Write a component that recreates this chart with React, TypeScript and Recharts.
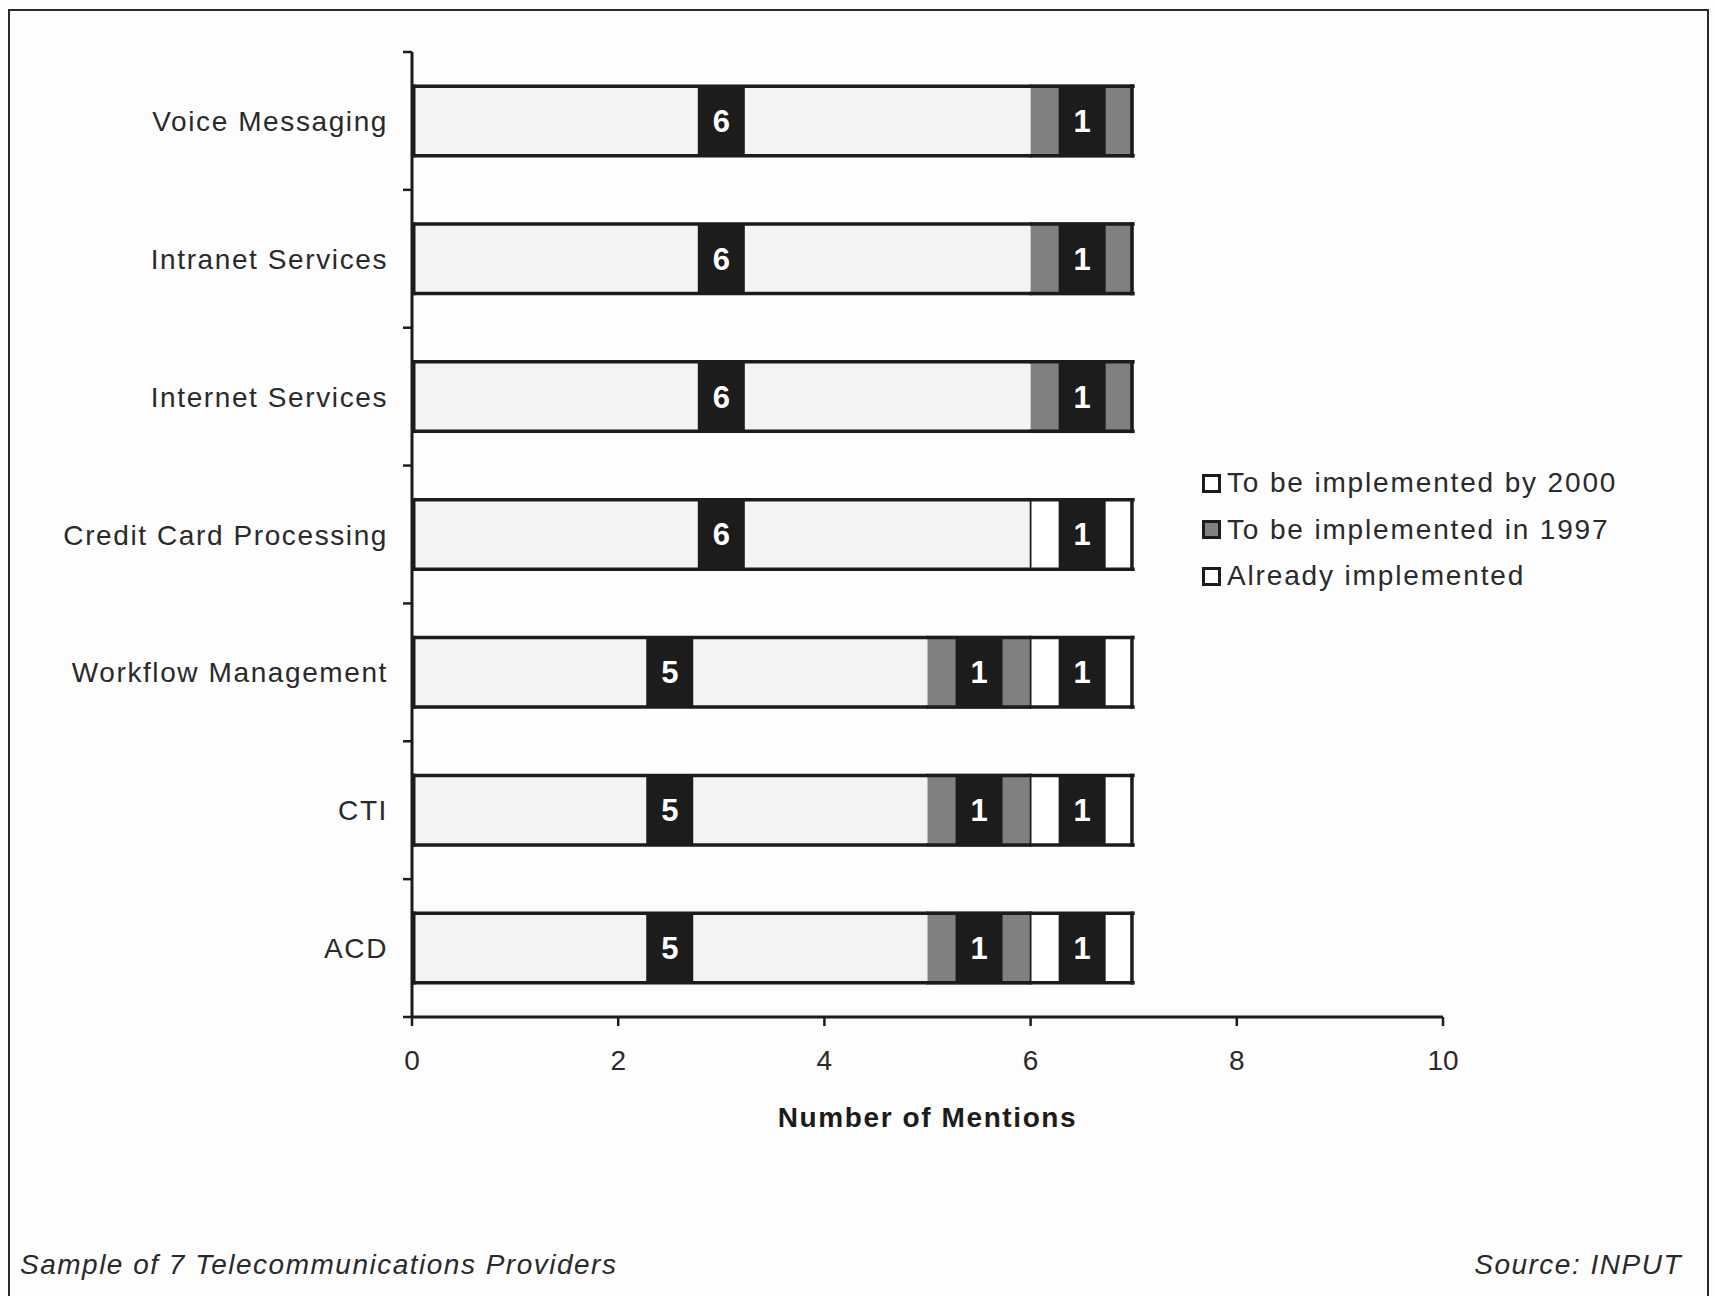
import React from 'react';
import { BarChart, Bar, XAxis, YAxis, LabelList } from 'recharts';

const categories = ['Voice Messaging', 'Intranet Services', 'Internet Services', 'Credit Card Processing', 'Workflow Management', 'CTI', 'ACD'];
const alreadyImplemented = [6, 6, 6, 6, 5, 5, 5];
const implementedIn1997 = [1, 1, 1, 0, 1, 1, 1];
const implementedBy2000 = [0, 0, 0, 1, 1, 1, 1];
const xTicks = [0, 2, 4, 6, 8, 10];
const seriesNames = ['Already implemented', 'To be implemented in 1997', 'To be implemented by 2000'];

const data = categories.map((c, i) => ({
  name: c,
  already: alreadyImplemented[i],
  y1997: implementedIn1997[i],
  y2000: implementedBy2000[i],
}));

const W = 1715;
const H = 1296;
const PLOT_LEFT = 412;
const PLOT_RIGHT = 1443;
const PLOT_TOP = 52;
const PLOT_BOTTOM = 1017;
const XAXIS_H = 60;
const BAND = (PLOT_BOTTOM - PLOT_TOP) / categories.length;
const FONT = "'Liberation Sans', Arial, sans-serif";
const INK = '#1c1c1c';
const LIGHT = '#f3f3f3';
const GRAY = '#808080';
const WHITE = '#ffffff';
const BORDER = 3.5;

const hEdges = (x: number, y: number, w: number, h: number) => (
  <>
    <line x1={x - 1} x2={x + w + 1} y1={y + BORDER / 2} y2={y + BORDER / 2} stroke={INK} strokeWidth={BORDER} />
    <line x1={x - 1} x2={x + w + 1} y1={y + h - BORDER / 2} y2={y + h - BORDER / 2} stroke={INK} strokeWidth={BORDER} />
  </>
);

const AlreadyShape = (p: any) => {
  const { x, y, width, height } = p;
  if (!width || width <= 0) return null;
  return (
    <g>
      <rect x={x} y={y} width={width} height={height} fill={LIGHT} />
      {hEdges(x, y, width, height)}
      <line x1={x + BORDER / 2} x2={x + BORDER / 2} y1={y} y2={y + height} stroke={INK} strokeWidth={BORDER} />
    </g>
  );
};

const Y1997Shape = (p: any) => {
  const { x, y, width, height, payload } = p;
  if (!width || width <= 0) return null;
  const last = !payload || !payload.y2000;
  return (
    <g>
      <rect x={x} y={y} width={width} height={height} fill={GRAY} />
      {hEdges(x, y, width, height)}
      {last && <line x1={x + width - BORDER / 2} x2={x + width - BORDER / 2} y1={y} y2={y + height} stroke={INK} strokeWidth={BORDER} />}
    </g>
  );
};

const Y2000Shape = (p: any) => {
  const { x, y, width, height } = p;
  if (!width || width <= 0) return null;
  return (
    <g>
      <rect x={x} y={y} width={width} height={height} fill={WHITE} />
      {hEdges(x, y, width, height)}
      <line x1={x} x2={x} y1={y} y2={y + height} stroke={INK} strokeWidth={1.8} />
      <line x1={x + width - BORDER / 2} x2={x + width - BORDER / 2} y1={y} y2={y + height} stroke={INK} strokeWidth={BORDER} />
    </g>
  );
};

const ValueBox = (p: any) => {
  const { x, y, width, height, value } = p;
  if (!value || !width || width <= 0) return null;
  const bw = 47;
  const cx = x + width / 2;
  return (
    <g>
      <rect x={cx - bw / 2} y={y + 2} width={bw} height={height - 4} fill={INK} />
      <text x={cx} y={y + height / 2 + 11} textAnchor="middle" fill="#ffffff" fontFamily={FONT} fontWeight="bold" fontSize={31}>
        {value}
      </text>
    </g>
  );
};

const YTick = (p: any) => {
  const { x, y, payload, index } = p;
  const isLast = index === categories.length - 1;
  return (
    <g>
      <text x={x - 24} y={y + 10} textAnchor="end" fill="#2a2a2a" fontFamily={FONT} fontSize={28} letterSpacing={1.6}>
        {payload.value}
      </text>
      <line x1={x - 9} x2={x} y1={y - BAND / 2} y2={y - BAND / 2} stroke={INK} strokeWidth={2.5} />
      {isLast && <line x1={x - 9} x2={x} y1={y + BAND / 2} y2={y + BAND / 2} stroke={INK} strokeWidth={2.5} />}
    </g>
  );
};

const XTick = (p: any) => {
  const { x, y, payload } = p;
  return (
    <text x={x} y={y + 44} textAnchor="middle" fill="#2a2a2a" fontFamily={FONT} fontSize={28}>
      {payload.value}
    </text>
  );
};

const legendItems = [
  { label: seriesNames[2], fill: WHITE },
  { label: seriesNames[1], fill: GRAY },
  { label: seriesNames[0], fill: WHITE },
];

const ChartLegend = () => (
  <div
    style={{
      position: 'absolute',
      left: 1202,
      top: 460,
      fontFamily: FONT,
      fontSize: 28,
      color: '#2a2a2a',
      letterSpacing: 1.85,
      whiteSpace: 'nowrap',
    }}
  >
    {legendItems.map((it) => (
      <div key={it.label} style={{ display: 'flex', alignItems: 'center', height: 46.5 }}>
        <div
          style={{
            width: 13,
            height: 13,
            border: `3px solid ${INK}`,
            background: it.fill,
            marginRight: 6,
            flex: 'none',
          }}
        />
        <span>{it.label}</span>
      </div>
    ))}
  </div>
);

export default function App() {
  return (
    <div style={{ position: 'absolute', left: 0, top: 0, width: W, height: H, background: '#fdfdfd', overflow: 'hidden' }}>
      <div
        style={{
          position: 'absolute',
          left: 8,
          top: 9,
          width: 1701,
          height: 1310,
          border: '2px solid #2a2a2a',
          boxSizing: 'border-box',
        }}
      />
      <div style={{ position: 'absolute', left: 0, top: 0 }}>
        <BarChart
          width={W}
          height={H}
          data={data}
          layout="vertical"
          barCategoryGap="23.5%"
          margin={{ top: PLOT_TOP, right: W - PLOT_RIGHT, left: 0, bottom: H - PLOT_BOTTOM - XAXIS_H }}
        >
          <XAxis
            type="number"
            domain={[0, 10]}
            ticks={xTicks}
            interval={0}
            height={XAXIS_H}
            axisLine={{ stroke: INK, strokeWidth: 3 }}
            tickLine={{ stroke: INK, strokeWidth: 2.5 }}
            tickSize={9}
            tickMargin={0}
            tick={<XTick />}
          />
          <YAxis
            type="category"
            dataKey="name"
            width={PLOT_LEFT}
            axisLine={{ stroke: INK, strokeWidth: 3 }}
            tickLine={false}
            tickSize={0}
            tickMargin={0}
            interval={0}
            tick={<YTick />}
          />
          <Bar dataKey="already" name={seriesNames[0]} stackId="s" fill={LIGHT} shape={<AlreadyShape />} isAnimationActive={false}>
            <LabelList dataKey="already" content={<ValueBox />} />
          </Bar>
          <Bar dataKey="y1997" name={seriesNames[1]} stackId="s" fill={GRAY} shape={<Y1997Shape />} isAnimationActive={false}>
            <LabelList dataKey="y1997" content={<ValueBox />} />
          </Bar>
          <Bar dataKey="y2000" name={seriesNames[2]} stackId="s" fill={WHITE} shape={<Y2000Shape />} isAnimationActive={false}>
            <LabelList dataKey="y2000" content={<ValueBox />} />
          </Bar>
        </BarChart>
      </div>
      <ChartLegend />
      <div
        style={{
          position: 'absolute',
          left: 0,
          width: PLOT_LEFT + PLOT_RIGHT,
          top: 1102,
          textAlign: 'center',
          fontFamily: FONT,
          fontSize: 28,
          fontWeight: 'bold',
          letterSpacing: 1.6,
          color: '#1c1c1c',
        }}
      >
        Number of Mentions
      </div>
      <div
        style={{
          position: 'absolute',
          left: 20,
          top: 1249,
          fontFamily: FONT,
          fontSize: 28,
          fontStyle: 'italic',
          letterSpacing: 1.5,
          color: '#2a2a2a',
        }}
      >
        Sample of 7 Telecommunications Providers
      </div>
      <div
        style={{
          position: 'absolute',
          right: W - 1682,
          top: 1249,
          fontFamily: FONT,
          fontSize: 28,
          fontStyle: 'italic',
          letterSpacing: 1.5,
          color: '#2a2a2a',
        }}
      >
        Source: INPUT
      </div>
    </div>
  );
}
